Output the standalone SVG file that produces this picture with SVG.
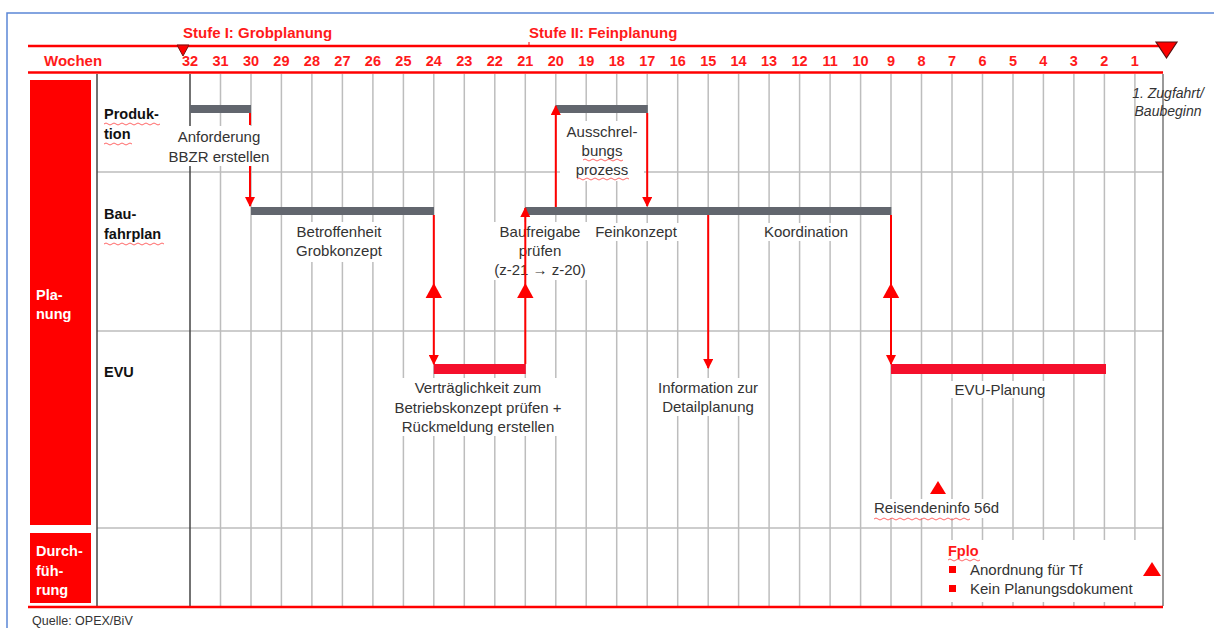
<svg xmlns="http://www.w3.org/2000/svg" width="1214" height="628" viewBox="0 0 1214 628">
<defs>
<style>
.hdr{font-family:"Liberation Sans",Arial,sans-serif;font-weight:bold;font-size:15px;fill:#ff1a1a}
.num{font-family:"Liberation Sans",Arial,sans-serif;font-weight:bold;font-size:14.5px;fill:#ff1a1a;text-anchor:middle}
.row{font-family:"Liberation Sans",Arial,sans-serif;font-weight:bold;font-size:14.5px;fill:#111}
.side{font-family:"Liberation Sans",Arial,sans-serif;font-weight:bold;font-size:14.5px;fill:#fff}
.lbl{font-family:"Liberation Sans",Arial,sans-serif;font-size:15px;fill:#333;text-anchor:middle}
.lbll{font-family:"Liberation Sans",Arial,sans-serif;font-size:15px;fill:#333}
.ital{font-family:"Liberation Sans",Arial,sans-serif;font-style:italic;font-size:14px;fill:#333;text-anchor:middle}
.grid{stroke:#bdbdbd;stroke-width:1.5}
.dark{stroke:#444;stroke-width:1.5}
.bar{fill:#62666e}
.evu{fill:#f5102c}
.arr{stroke:#ff0000;stroke-width:2;fill:none}
.tri{fill:#ff0000}
.wave{fill:none;stroke:#ff4040;stroke-width:0.8}
.bg{fill:#fff}
</style>
<marker id="ah" viewBox="0 0 10 10" refX="9" refY="5" markerWidth="5" markerHeight="5" orient="auto-start-reverse"><path d="M0,0 L10,5 L0,10 z" fill="#ff0000"/></marker>
</defs>
<rect width="1214" height="628" fill="#fff"/>
<path d="M7,628 V13 H1214" fill="none" stroke="#5b86d6" stroke-width="1.5"/>

<g id="grid">
<g class="grid">
<line x1="220.5" y1="74" x2="220.5" y2="606"/><line x1="251" y1="74" x2="251" y2="606"/><line x1="281.4" y1="74" x2="281.4" y2="606"/><line x1="311.9" y1="74" x2="311.9" y2="606"/><line x1="342.4" y1="74" x2="342.4" y2="606"/><line x1="372.9" y1="74" x2="372.9" y2="606"/><line x1="403.4" y1="74" x2="403.4" y2="606"/><line x1="433.8" y1="74" x2="433.8" y2="606"/><line x1="464.3" y1="74" x2="464.3" y2="606"/><line x1="494.8" y1="74" x2="494.8" y2="606"/><line x1="525.3" y1="74" x2="525.3" y2="606"/><line x1="555.8" y1="74" x2="555.8" y2="606"/><line x1="586.2" y1="74" x2="586.2" y2="606"/><line x1="616.7" y1="74" x2="616.7" y2="606"/><line x1="647.2" y1="74" x2="647.2" y2="606"/><line x1="677.7" y1="74" x2="677.7" y2="606"/><line x1="708.2" y1="74" x2="708.2" y2="606"/><line x1="738.6" y1="74" x2="738.6" y2="606"/><line x1="769.1" y1="74" x2="769.1" y2="606"/><line x1="799.6" y1="74" x2="799.6" y2="606"/><line x1="830.1" y1="74" x2="830.1" y2="606"/><line x1="860.6" y1="74" x2="860.6" y2="606"/><line x1="891" y1="74" x2="891" y2="606"/><line x1="921.5" y1="74" x2="921.5" y2="606"/><line x1="952" y1="74" x2="952" y2="606"/><line x1="982.5" y1="74" x2="982.5" y2="606"/><line x1="1013" y1="74" x2="1013" y2="606"/><line x1="1043.4" y1="74" x2="1043.4" y2="606"/><line x1="1073.9" y1="74" x2="1073.9" y2="606"/><line x1="1104.4" y1="74" x2="1104.4" y2="606"/><line x1="1134.9" y1="74" x2="1134.9" y2="606"/>
<line x1="97" y1="172" x2="1163" y2="172"/><line x1="97" y1="331" x2="1163" y2="331"/><line x1="97" y1="528" x2="1163" y2="528"/>
</g>
<line class="dark" x1="97" y1="74" x2="97" y2="606"/>
<line class="dark" x1="190" y1="74" x2="190" y2="606"/>
<line x1="1163" y1="74" x2="1163" y2="606" stroke="#777" stroke-width="1.5"/>
</g>

<g id="header">
<line x1="28" y1="46" x2="1160" y2="46" stroke="#ff0000" stroke-width="2.5"/>
<line x1="28" y1="72.5" x2="1163" y2="72.5" stroke="#ff0000" stroke-width="2.5"/>
<line x1="529" y1="42" x2="529" y2="46" stroke="#ff0000" stroke-width="1"/>
<text class="hdr" x="183" y="38">Stufe I: Grobplanung</text>
<text class="hdr" x="529" y="38">Stufe II: Feinplanung</text>
<text class="hdr" x="44" y="66">Wochen</text>
<path d="M177,45 L189,45 L183,56 z" fill="#ff0000" stroke="#7a1010" stroke-width="1"/>
<path d="M1156,42 L1177,42 L1166.5,58 z" fill="#ff0000" stroke="#5a1010" stroke-width="1.2"/>
<text class="num" y="66"><tspan x="190">32</tspan><tspan x="220.5">31</tspan><tspan x="251">30</tspan><tspan x="281.4">29</tspan><tspan x="311.9">28</tspan><tspan x="342.4">27</tspan><tspan x="372.9">26</tspan><tspan x="403.4">25</tspan><tspan x="433.8">24</tspan><tspan x="464.3">23</tspan><tspan x="494.8">22</tspan><tspan x="525.3">21</tspan><tspan x="555.8">20</tspan><tspan x="586.2">19</tspan><tspan x="616.7">18</tspan><tspan x="647.2">17</tspan><tspan x="677.7">16</tspan><tspan x="708.2">15</tspan><tspan x="738.6">14</tspan><tspan x="769.1">13</tspan><tspan x="799.6">12</tspan><tspan x="830.1">11</tspan><tspan x="860.6">10</tspan><tspan x="891">9</tspan><tspan x="921.5">8</tspan><tspan x="952">7</tspan><tspan x="982.5">6</tspan><tspan x="1013">5</tspan><tspan x="1043.4">4</tspan><tspan x="1073.9">3</tspan><tspan x="1104.4">2</tspan><tspan x="1134.9">1</tspan></text>
<line x1="28" y1="607" x2="1163" y2="607" stroke="#ff0000" stroke-width="2.5"/>
</g>

<g id="planung">
<rect x="30" y="80" width="61" height="445" fill="#ff0000"/>
<text class="side" x="36" y="300">Pla-</text>
<text class="side" x="36" y="319">nung</text>
</g>
<g id="durchfuehrung">
<rect x="30" y="533" width="61" height="70" fill="#ff0000"/>
<text class="side" x="36" y="556">Durch-</text>
<text class="side" x="36" y="576">füh-</text>
<text class="side" x="36" y="595">rung</text>
</g>
<g id="rowlabels">
<text class="row" x="104" y="119">Produk-</text>
<text class="row" x="104" y="139">tion</text>
<text class="row" x="104" y="219">Bau-</text>
<text class="row" x="104" y="239">fahrplan</text>
<text class="row" x="104" y="377">EVU</text>
<path class="wave" d="M104,124 q2,-2 4,0 t4,0 t4,0 t4,0 t4,0 t4,0 t4,0 t4,0 t4,0 t4,0 t4,0 t4,0 t4,0 t4,0 M104,144 q2,-2 4,0 t4,0 t4,0 t4,0 t4,0 t4,0 t4,0 M104,244 q2,-2 4,0 t4,0 t4,0 t4,0 t4,0 t4,0 t4,0 t4,0 t4,0 t4,0 t4,0 t4,0 t4,0 t4,0 t4,0"/>
</g>
<g id="zugfahrt">
<text class="ital" x="1168" y="98">1. Zugfahrt/</text>
<text class="ital" x="1168" y="116">Baubeginn</text>
</g>

<g id="anforderung">
<rect class="bar" x="190" y="105" width="61" height="8"/>
<rect class="bg" x="163" y="126" width="112" height="40"/>
<text class="lbl" x="219" y="142">Anforderung</text>
<text class="lbl" x="219" y="162">BBZR erstellen</text>
</g>
<g id="betroffenheit">
<rect class="bg" x="292" y="222" width="96" height="40"/>
<rect class="bar" x="251" y="207" width="183" height="8"/>
<text class="lbl" x="339" y="237">Betroffenheit</text>
<text class="lbl" x="339" y="256">Grobkonzept</text>
</g>
<g id="vertraeglichkeit">
<rect class="evu" x="433.8" y="364" width="92" height="10"/>
<rect class="bg" x="388" y="378" width="182" height="58"/>
<text class="lbl" x="478" y="393">Verträglichkeit  zum</text>
<text class="lbl" x="478" y="413">Betriebskonzept  prüfen +</text>
<text class="lbl" x="478" y="432">Rückmeldung  erstellen</text>
</g>
<g id="baufahrplan2">
<rect class="bar" x="525.3" y="207" width="366" height="8"/>
<rect class="bg" x="490" y="222" width="102" height="58"/>
<text class="lbl" x="540" y="237">Baufreigabe</text>
<text class="lbl" x="540" y="256">prüfen</text>
<text class="lbl" x="540" y="275">(z-21 → z-20)</text>
<rect class="bg" x="590" y="223" width="92" height="18"/>
<text class="lbl" x="636" y="237">Feinkonzept</text>
<rect class="bg" x="757" y="223" width="98" height="18"/>
<text class="lbl" x="806" y="237">Koordination</text>
</g>
<g id="ausschreibung">
<rect class="bar" x="555.8" y="105" width="92" height="8"/>
<rect class="bg" x="560" y="121" width="84" height="60"/>
<text class="lbl" x="602" y="137">Ausschrel-</text>
<text class="lbl" x="602" y="156">bungs</text>
<text class="lbl" x="602" y="175">prozess</text>
<path class="wave" d="M583,160 q2,-2 4,0 t4,0 t4,0 t4,0 t4,0 t4,0 t4,0 t4,0 t4,0 t4,0 M577,179 q2,-2 4,0 t4,0 t4,0 t4,0 t4,0 t4,0 t4,0 t4,0 t4,0 t4,0 t4,0 t4,0 t4,0"/>
</g>
<g id="information">
<rect class="bg" x="650" y="378" width="116" height="38"/>
<text class="lbl" x="708" y="393">Information zur</text>
<text class="lbl" x="708" y="412">Detailplanung</text>
</g>
<g id="evuplanung">
<rect class="evu" x="891" y="364" width="215" height="10"/>
<rect class="bg" x="945" y="381" width="110" height="17"/>
<text class="lbl" x="1000" y="395">EVU-Planung</text>
</g>
<g id="reisendeninfo">
<path class="tri" d="M938,481 L946,494 L930,494 z"/>
<rect class="bg" x="872" y="499" width="134" height="19"/>
<text class="lbll" x="874" y="513">Reisendeninfo  56d</text>
<path class="wave" d="M874,519 q2,-2 4,0 t4,0 t4,0 t4,0 t4,0 t4,0 t4,0 t4,0 t4,0 t4,0 t4,0 t4,0 t4,0 t4,0 t4,0 t4,0 t4,0 t4,0 t4,0 t4,0 t4,0 t4,0 t4,0 t4,0"/>
</g>
<g id="fplo">
<rect class="bg" x="946" y="540" width="196" height="62"/>
<text x="948" y="556" style="font-family:'Liberation Sans',Arial,sans-serif;font-weight:bold;font-size:14.5px;fill:#ff1a1a">Fplo</text>
<path class="wave" d="M948,560 q2,-2 4,0 t4,0 t4,0 t4,0 t4,0 t4,0 t4,0 t4,0"/>
<rect x="949" y="566" width="7" height="7" fill="#ff0000"/>
<rect x="949" y="585" width="7" height="7" fill="#ff0000"/>
<text class="lbll" x="970" y="575">Anordnung für Tf</text>
<text class="lbll" x="970" y="594">Kein Planungsdokument</text>
<path class="tri" d="M1152,562 L1161,576 L1143,576 z"/>
</g>

<g id="connectors">
<line class="arr" x1="250" y1="113" x2="250" y2="125"/>
<line class="arr" x1="250" y1="166" x2="250" y2="206" marker-end="url(#ah)"/>
<line class="arr" x1="433.8" y1="215" x2="433.8" y2="364" marker-end="url(#ah)"/>
<path class="tri" d="M433.8,283 L442,298 L425.6,298 z"/>
<line class="arr" x1="525.3" y1="364" x2="525.3" y2="208" marker-end="url(#ah)"/>
<path class="tri" d="M525.3,283 L533.5,298 L517.1,298 z"/>
<line class="arr" x1="555.8" y1="207" x2="555.8" y2="106" marker-end="url(#ah)"/>
<line class="arr" x1="647.2" y1="113" x2="647.2" y2="206" marker-end="url(#ah)"/>
<line class="arr" x1="708.2" y1="215" x2="708.2" y2="368" marker-end="url(#ah)"/>
<line class="arr" x1="891" y1="215" x2="891" y2="364" marker-end="url(#ah)"/>
<path class="tri" d="M891,283 L899.2,298 L882.8,298 z"/>
</g>

<text x="32" y="625" style="font-family:'Liberation Sans',Arial,sans-serif;font-size:12.5px;fill:#333">Quelle: OPEX/BiV</text>
</svg>
